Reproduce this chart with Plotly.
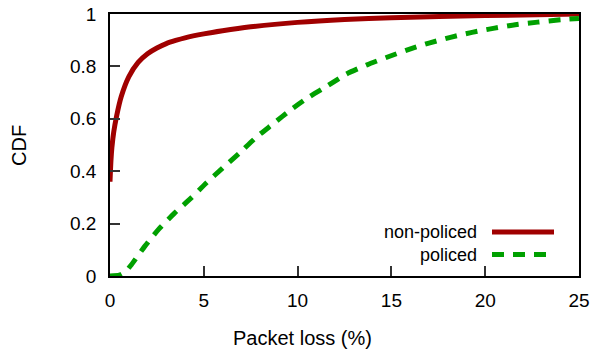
import plotly.graph_objects as go

# Data
nonpoliced_x = [0, 0.05, 0.1, 0.2, 0.35, 0.6, 1.0, 1.5, 2.0, 2.5, 3.0, 3.5, 4.0, 5.0, 6.0, 7.5, 10.0, 12.5, 15.0, 20.0, 25.0]
nonpoliced_y = [0.36, 0.44, 0.49, 0.55, 0.61, 0.685, 0.76, 0.815, 0.848, 0.87, 0.887, 0.899, 0.909, 0.924, 0.936,
                0.951, 0.968, 0.979, 0.986, 0.994, 1.0]

policed_x = [0, 0.5, 0.8, 1.14, 1.85, 2.6, 3.44, 4.33, 5.13, 6.0, 6.9, 7.8, 8.7, 9.65, 10.6, 11.6, 12.6, 13.7,
             14.8, 15.9, 17.0, 18.2, 19.3, 20.5, 21.6, 22.8, 24.0, 25.0]
policed_y = [0, 0.003, 0.015, 0.043, 0.113, 0.179, 0.24, 0.298, 0.355, 0.412, 0.469, 0.53, 0.581, 0.635, 0.683,
             0.726, 0.771, 0.806, 0.836, 0.864, 0.889, 0.912, 0.93, 0.946, 0.959, 0.969, 0.978, 0.983]

x_ticks = [0, 5, 10, 15, 20, 25]
y_ticks = [0, 0.2, 0.4, 0.6, 0.8, 1]
y_tick_labels = ["0", "0.2", "0.4", "0.6", "0.8", "1"]
series_names = ["non-policed", "policed"]

RED = "#a00000"
GREEN = "#00a000"
FONT = "Liberation Sans, Arial, sans-serif"

fig = go.Figure()
fig.add_trace(go.Scatter(x=nonpoliced_x, y=nonpoliced_y, mode="lines", name=series_names[0],
                         line=dict(color=RED, width=5, shape="spline", smoothing=0.6), showlegend=False))
fig.add_trace(go.Scatter(x=policed_x, y=policed_y, mode="lines", name=series_names[1],
                         line=dict(color=GREEN, width=5, dash="12px,9px", shape="spline", smoothing=0.6),
                         showlegend=False))

W, H = 596, 354
L, R, T, B = 110, 17, 14, 78
pw, ph = W - L - R, H - T - B

def px_to_paper(px, py):
    return (px - L) / pw, (H - B - py) / ph

# manual legend (text left, sample right)
leg = [(series_names[0], 232, dict(color=RED, width=5)),
       (series_names[1], 254.5, dict(color=GREEN, width=5, dash="12px,9px"))]
annotations = []
shapes = []
for name, py, ln in leg:
    tx, ty = px_to_paper(479, py)
    annotations.append(dict(x=tx, y=ty, xref="paper", yref="paper", text=name, showarrow=False,
                            xanchor="right", yanchor="middle", font=dict(family=FONT, size=18, color="black")))
    x0, y0 = px_to_paper(492, py)
    x1, _ = px_to_paper(554, py)
    shapes.append(dict(type="line", xref="paper", yref="paper", x0=x0, x1=x1, y0=y0, y1=y0, line=ln))

# axis titles
ax, ay = px_to_paper(302, 338)
annotations.append(dict(x=ax, y=ay, xref="paper", yref="paper", text="Packet loss (%)", showarrow=False,
                        xanchor="center", yanchor="middle", font=dict(family=FONT, size=20, color="black")))
cx, cy = px_to_paper(19, 146)
annotations.append(dict(x=cx, y=cy, xref="paper", yref="paper", text="CDF", showarrow=False, textangle=-90,
                        xanchor="center", yanchor="middle", font=dict(family=FONT, size=20, color="black")))

fig.update_layout(
    width=W, height=H,
    margin=dict(l=L, r=R, t=T, b=B, autoexpand=False),
    paper_bgcolor="white", plot_bgcolor="white",
    font=dict(family=FONT, size=19, color="black"),
    annotations=annotations, shapes=shapes,
    showlegend=False,
)
fig.update_xaxes(range=[0, 25], tickvals=x_ticks, ticktext=[str(v) for v in x_ticks],
                 showline=True, linecolor="black", linewidth=1.5, mirror=True,
                 ticks="inside", ticklen=10, tickwidth=1.5, tickcolor="#333", automargin=False,
                 showgrid=False, zeroline=False, ticklabelstandoff=6)
fig.update_yaxes(range=[0, 1], tickvals=y_ticks, ticktext=y_tick_labels,
                 showline=True, linecolor="black", linewidth=1.5, mirror=True,
                 ticks="inside", ticklen=10, tickwidth=1.5, tickcolor="#333", automargin=False,
                 showgrid=False, zeroline=False, ticklabelstandoff=8)

fig.write_html("out.html", config={"displayModeBar": False},
               post_script="document.body.style.margin='0px';document.body.style.overflow='hidden';")
